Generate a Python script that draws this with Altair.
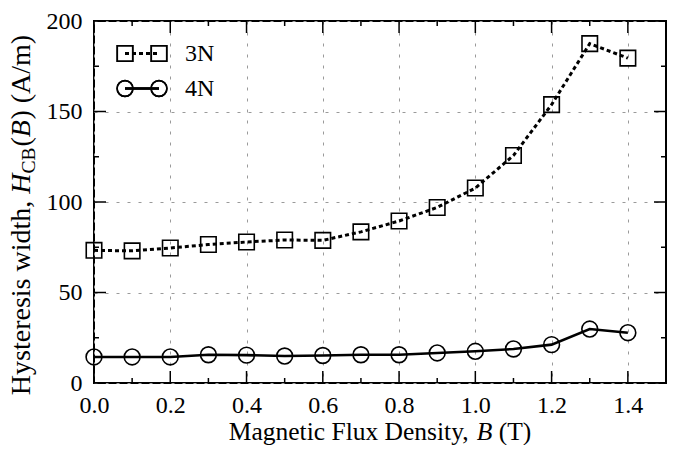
import altair as alt
import pandas as pd

# ---------------- data ----------------
B_T = [0.0, 0.1, 0.2, 0.3, 0.4, 0.5, 0.6, 0.7, 0.8, 0.9, 1.0, 1.1, 1.2, 1.3, 1.4]
H_3N = [73.3, 73.0, 74.6, 76.5, 77.9, 79.0, 78.8, 83.5, 89.5, 97.0, 107.7, 125.7, 153.8, 187.5, 179.5]
H_4N = [14.4, 14.4, 14.4, 15.6, 15.4, 14.9, 15.2, 15.6, 15.6, 16.6, 17.5, 18.8, 21.2, 29.8, 27.8]
SERIES = ["3N", "4N"]

X_MAJOR = [0.0, 0.2, 0.4, 0.6, 0.8, 1.0, 1.2, 1.4]
X_MINOR = [0.1, 0.3, 0.5, 0.7, 0.9, 1.1, 1.3]
Y_MAJOR = [0, 50, 100, 150, 200]
Y_MINOR = [25, 75, 125, 175]

# ---------------- layout ----------------
W, H = 572, 362
PAD_L, PAD_T, PAD_R, PAD_B = 86, 13, 1, 62
FONT = "Liberation Serif"
TICK_FS = 24
XT_FS = 25.5
YT_FS = 28
NB = "\u00a0"

# Times metrics (per em)
REG = {" ": .25, NB: .25, "(": .333, ")": .333, ",": .25, "/": .278, "A": .722, "B": .667, "C": .667,
       "D": .722, "F": .556, "H": .722, "M": .889, "T": .611, "a": .444, "c": .444, "d": .5,
       "e": .444, "g": .5, "h": .5, "i": .278, "l": .278, "m": .778, "n": .5, "r": .333,
       "s": .389, "t": .278, "u": .5, "w": .722, "x": .5, "y": .5}
ITA = {"B": .611, "H": .722}


def tw(s, size, italic=False):
    tab = ITA if italic else REG
    return sum(tab.get(c, REG.get(c, .5)) for c in s) * size


df = pd.DataFrame({"B": B_T, "h3": H_3N, "h4": H_4N})
xs = alt.Scale(domain=[0, 1.5], nice=False, zero=False)
ys = alt.Scale(domain=[0, 200], nice=False)

AX_X = alt.Axis(values=X_MAJOR, format=".1f", grid=True, gridDash=[3, 8], gridColor="#9a9a9a",
                gridWidth=1, ticks=False, tickSize=0, domain=False, labelFont=FONT,
                labelFontSize=TICK_FS, labelColor="black", labelPadding=10, title=None,
                labelFlush=False)
AX_Y = alt.Axis(values=Y_MAJOR, grid=True, gridDash=[3, 8], gridColor="#9a9a9a",
                gridWidth=1, ticks=False, tickSize=0, domain=False, labelFont=FONT,
                labelFontSize=TICK_FS, labelColor="black", labelPadding=12, title=None,
                labelFlush=False)


def X(f):
    return alt.X(f, scale=xs, axis=AX_X)


def Y(f):
    return alt.Y(f, scale=ys, axis=AX_Y)


base = alt.Chart(df)
line3 = base.mark_line(color="black", strokeWidth=3, strokeDash=[4, 3]).encode(x=X("B:Q"), y=Y("h3:Q"))
pts3 = base.mark_point(shape="square", size=240, filled=False, color="black", strokeWidth=1.6,
                       opacity=1).encode(x=X("B:Q"), y=Y("h3:Q"))
line4 = base.mark_line(color="black", strokeWidth=2.6).encode(x=X("B:Q"), y=Y("h4:Q"))
pts4 = base.mark_point(shape="circle", size=250, filled=False, color="black", strokeWidth=1.6,
                       opacity=1).encode(x=X("B:Q"), y=Y("h4:Q"))


# ---------------- ticks (inward, mirrored) ----------------
def xticks(vals, length):
    d = alt.Chart(pd.DataFrame({"v": vals}))
    bot = d.mark_rule(color="black", strokeWidth=1.5).encode(
        x=X("v:Q"), y=alt.value(H - length), y2=alt.value(H))
    top = d.mark_rule(color="black", strokeWidth=1.5).encode(
        x=X("v:Q"), y=alt.value(0), y2=alt.value(length))
    return [bot, top]


def yticks(vals, length):
    d = alt.Chart(pd.DataFrame({"v": vals}))
    lef = d.mark_rule(color="black", strokeWidth=1.5).encode(
        y=Y("v:Q"), x=alt.value(0), x2=alt.value(length))
    rig = d.mark_rule(color="black", strokeWidth=1.5).encode(
        y=Y("v:Q"), x=alt.value(W - length), x2=alt.value(W))
    return [lef, rig]


ticks = xticks(X_MAJOR, 12) + xticks(X_MINOR, 5) + yticks(Y_MAJOR, 12) + yticks(Y_MINOR, 5)

# ---------------- legend ----------------
one = alt.Chart(pd.DataFrame({"name": SERIES}))
LX1, LX2, LTX = 31, 65, 91
LY = [32.5, 67.5]
leg = []
leg.append(one.mark_rule(color="black", strokeWidth=3, strokeDash=[4, 3]).encode(
    x=alt.value(LX1), x2=alt.value(LX2), y=alt.value(LY[0])))
for lx in (LX1, LX2):
    leg.append(one.mark_point(shape="square", size=240, filled=False, color="black", strokeWidth=1.6,
                              opacity=1).encode(x=alt.value(lx), y=alt.value(LY[0])))
leg.append(one.mark_rule(color="black", strokeWidth=2.6).encode(
    x=alt.value(LX1), x2=alt.value(LX2), y=alt.value(LY[1])))
for lx in (LX1, LX2):
    leg.append(one.mark_point(shape="circle", size=250, filled=False, color="black", strokeWidth=1.6,
                              opacity=1).encode(x=alt.value(lx), y=alt.value(LY[1])))
for i, nm in enumerate(SERIES):
    leg.append(one.transform_filter(alt.datum.name == nm).mark_text(
        font=FONT, fontSize=TICK_FS, align="left", baseline="middle", color="black").encode(
        x=alt.value(LTX), y=alt.value(LY[i]), text="name:N"))


# ---------------- axis titles (rich text pieces) ----------------
def txt(s, x, y, size, italic=False, angle=0):
    kw = dict(font=FONT, fontSize=size, align="left", baseline="alphabetic", color="black", text=s)
    if italic:
        kw["fontStyle"] = "italic"
    if angle:
        kw["angle"] = angle
    return alt.Chart(pd.DataFrame({"a": [0]})).mark_text(**kw).encode(x=alt.value(x), y=alt.value(y))


titles = []
xp = [("Magnetic Flux Density,", False, 0.25), ("B", True, 0.25), ("(T)", False, 0)]
total = sum(tw(s, XT_FS, it) + g * XT_FS for s, it, g in xp)
cx = W / 2 - total / 2
for s, it, g in xp:
    titles.append(txt(s, cx, H + 57, XT_FS, it))
    cx += tw(s, XT_FS, it) + g * XT_FS

yp = [("Hysteresis width,", False, YT_FS, 0, 0.25), ("H", True, YT_FS, 0, 0),
      ("CB", False, YT_FS * 0.7, 5, 0.03), ("(", False, YT_FS, 0, 0), ("B", True, YT_FS, 0, 0.02),
      (")", False, YT_FS, 0, 0.25), ("(A/m)", False, YT_FS, 0, 0)]
total = sum(tw(s, sz, it) + g * YT_FS for s, it, sz, _, g in yp)
cy = 194 + total / 2
BX = -64
for s, it, sz, sh, g in yp:
    titles.append(txt(s, BX + sh, cy, sz, it, angle=270))
    cy -= tw(s, sz, it) + g * YT_FS

chart = alt.layer(line3, line4, pts3, pts4, *ticks, *leg, *titles).properties(
    width=W, height=H,
    autosize=alt.AutoSizeParams(type="none"),
    padding={"left": PAD_L, "top": PAD_T, "right": PAD_R, "bottom": PAD_B},
    background="white",
).configure_view(stroke="black", strokeWidth=2)

chart.save("out.html", embed_options={"renderer": "svg", "actions": False})
